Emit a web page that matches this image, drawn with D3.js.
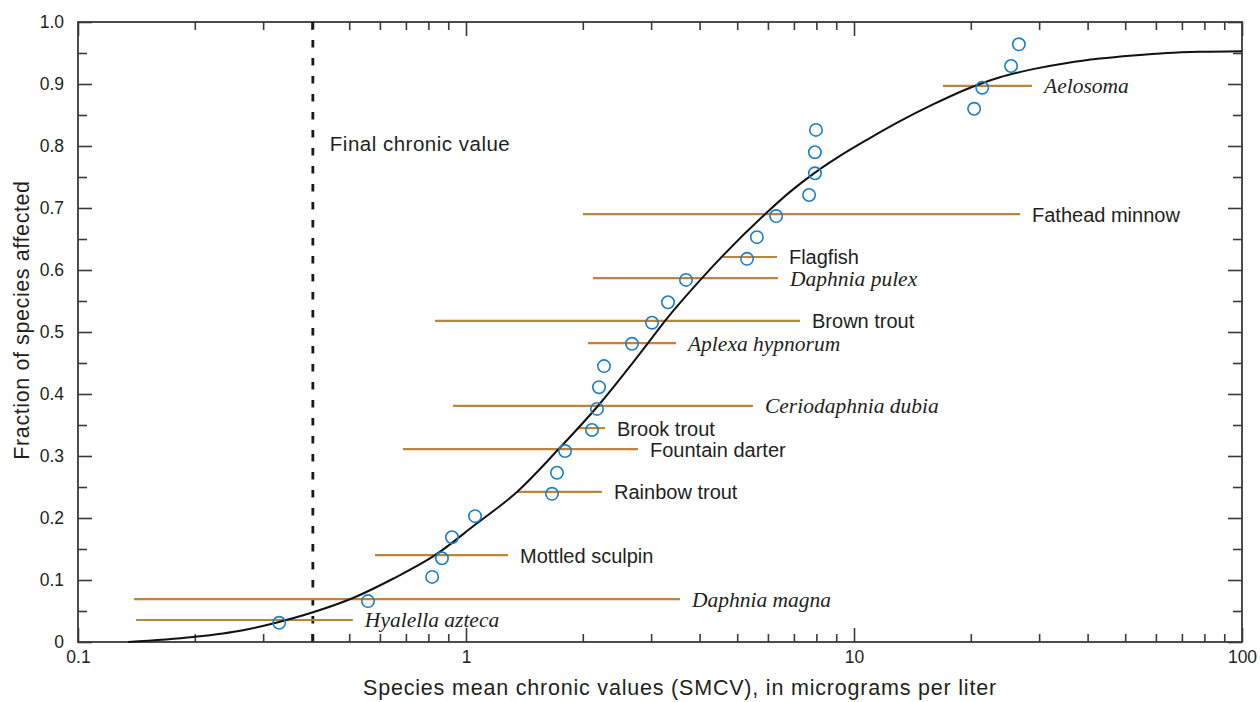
<!DOCTYPE html>
<html>
<head>
<meta charset="utf-8">
<script src="https://cdn.jsdelivr.net/npm/d3@7"></script>
<style>
  html, body { margin: 0; padding: 0; background: #ffffff; }
  svg { display: block; }
  .sans { font-family: "Liberation Sans", Arial, sans-serif; fill: #231f20; }
  .ital { font-family: "Liberation Serif", "Times New Roman", serif; font-style: italic; fill: #231f20; }
</style>
</head>
<body>
<svg id="chart" width="1260" height="702"></svg>
<script>
// Species mean chronic values (micrograms per liter) and their cumulative fraction
const smcv = [0.330, 0.559, 0.818, 0.867, 0.920, 1.055, 1.666, 1.716, 1.800, 2.112,
              2.176, 2.202, 2.268, 2.678, 3.016, 3.316, 3.69, 5.30, 5.62, 6.30,
              7.66, 7.93, 7.93, 7.98, 20.4, 21.4, 25.4, 26.6];
const fraction = [0.031, 0.066, 0.105, 0.135, 0.169, 0.203, 0.239, 0.273, 0.308, 0.342,
                  0.376, 0.411, 0.445, 0.481, 0.515, 0.548, 0.584, 0.618, 0.653, 0.687,
                  0.721, 0.756, 0.790, 0.826, 0.860, 0.894, 0.929, 0.964];

// Fitted species sensitivity curve
const curveX = [0.1346, 0.1979, 0.2663, 0.3278, 0.4034, 0.5114, 0.6484, 0.8322, 1.055, 1.353,
                1.726, 2.176, 2.945, 3.258, 4.057, 5.898, 6.841, 7.934, 9.203, 10.80,
                13.14, 15.98, 19.56, 23.78, 28.93, 35.40, 43.05, 52.38, 64.08, 77.94, 100];
const curveY = [0.000, 0.008, 0.019, 0.032, 0.048, 0.071, 0.102, 0.140, 0.189, 0.242,
                0.310, 0.379, 0.482, 0.518, 0.587, 0.690, 0.726, 0.757, 0.784, 0.810,
                0.840, 0.867, 0.892, 0.911, 0.924, 0.934, 0.941, 0.946, 0.950, 0.952, 0.953];

// Range of chronic values for selected species
const species = ["Aelosoma", "Fathead minnow", "Flagfish", "Daphnia pulex", "Brown trout",
                 "Aplexa hypnorum", "Ceriodaphnia dubia", "Brook trout", "Fountain darter",
                 "Rainbow trout", "Mottled sculpin", "Daphnia magna", "Hyalella azteca"];
const speciesItalic = [true, false, false, true, false, true, true, false, false, false, false, true, true];
const rangeLow  = [16.96, 2.002, 4.597, 2.125, 0.832, 2.063, 0.926, 1.944, 0.688, 1.353, 0.583, 0.1394, 0.1411];
const rangeHigh = [28.76, 26.78, 6.33, 6.37, 7.26, 3.477, 5.49, 2.282, 2.776, 2.242, 1.283, 3.560, 0.511];
const rangeFrac = [0.897, 0.690, 0.621, 0.587, 0.518, 0.482, 0.381, 0.345, 0.311, 0.242, 0.140, 0.069, 0.0355];

// Final chronic value
const finalChronicValue = 0.403;

// Axis ticks
const xMajorTicks = [0.1, 1, 10, 100];
const xTickLabels = ["0.1", "1", "10", "100"];
const xMinorTicks = [0.2, 0.3, 0.4, 0.5, 0.6, 0.7, 0.8, 0.9, 2, 3, 4, 5, 6, 7, 8, 9,
                     20, 30, 40, 50, 60, 70, 80, 90];
const yMajorTicks = [0, 0.1, 0.2, 0.3, 0.4, 0.5, 0.6, 0.7, 0.8, 0.9, 1.0];
const yTickLabels = ["0", "0.1", "0.2", "0.3", "0.4", "0.5", "0.6", "0.7", "0.8", "0.9", "1.0"];
const yMinorTicks = [0.05, 0.15, 0.25, 0.35, 0.45, 0.55, 0.65, 0.75, 0.85, 0.95];

const svg = d3.select("#chart");
const plot = { left: 78, right: 1242, top: 22, bottom: 642 };
const W = plot.right - plot.left, H = plot.bottom - plot.top;

const x = d3.scaleLog().domain([0.1, 100]).range([plot.left, plot.right]);
const y = d3.scaleLinear().domain([0, 1]).range([plot.bottom, plot.top]);

const axisColor = "#3a3a3a";
const tickFont = "17.5px";

// Left axis with labels and inward ticks
svg.append("g").attr("transform", `translate(${plot.left},0)`)
  .call(d3.axisLeft(y).tickValues(yMajorTicks)
    .tickFormat((d, i) => yTickLabels[i]).tickSize(-14).tickSizeOuter(0).tickPadding(14));
svg.append("g").attr("transform", `translate(${plot.left},0)`)
  .call(d3.axisLeft(y).tickValues(yMinorTicks).tickFormat("").tickSize(-9).tickSizeOuter(0));
// Right axis, ticks only
svg.append("g").attr("transform", `translate(${plot.right},0)`)
  .call(d3.axisRight(y).tickValues(yMajorTicks).tickFormat("").tickSize(-14).tickSizeOuter(0));
svg.append("g").attr("transform", `translate(${plot.right},0)`)
  .call(d3.axisRight(y).tickValues(yMinorTicks).tickFormat("").tickSize(-9).tickSizeOuter(0));
// Bottom axis with labels
svg.append("g").attr("transform", `translate(0,${plot.bottom})`)
  .call(d3.axisBottom(x).tickValues(xMajorTicks)
    .tickFormat((d, i) => xTickLabels[i]).tickSize(-14).tickSizeOuter(0).tickPadding(9));
svg.append("g").attr("transform", `translate(0,${plot.bottom})`)
  .call(d3.axisBottom(x).tickValues(xMinorTicks).tickFormat("").tickSize(-8).tickSizeOuter(0));
// Top axis, ticks only
svg.append("g").attr("transform", `translate(0,${plot.top})`)
  .call(d3.axisTop(x).tickValues(xMajorTicks).tickFormat("").tickSize(-14).tickSizeOuter(0));
svg.append("g").attr("transform", `translate(0,${plot.top})`)
  .call(d3.axisTop(x).tickValues(xMinorTicks).tickFormat("").tickSize(-8).tickSizeOuter(0));

svg.selectAll(".domain").remove();
svg.selectAll(".tick line").attr("stroke", axisColor).attr("stroke-width", 1.6);
svg.selectAll(".tick text").attr("class", "sans").style("font-size", tickFont)
  .attr("fill", "#231f20");

// Plot frame
svg.append("rect")
  .attr("x", plot.left).attr("y", plot.top).attr("width", W).attr("height", H)
  .attr("fill", "none").attr("stroke", axisColor).attr("stroke-width", 1.8);

// Final chronic value marker
svg.append("line")
  .attr("x1", x(finalChronicValue)).attr("x2", x(finalChronicValue))
  .attr("y1", y(1)).attr("y2", y(0))
  .attr("stroke", "#1a1a1a").attr("stroke-width", 2.8)
  .attr("stroke-dasharray", "7.5 10.5");
svg.append("text").attr("class", "sans")
  .attr("x", x(finalChronicValue) + 17).attr("y", 151)
  .style("font-size", "20.5px").style("letter-spacing", "0.5px")
  .text("Final chronic value");

// Species ranges
const ranges = species.map((s, i) => ({
  name: s, italic: speciesItalic[i], lo: rangeLow[i], hi: rangeHigh[i], f: rangeFrac[i]
}));
svg.append("g").selectAll("line").data(ranges).join("line")
  .attr("x1", d => x(d.lo)).attr("x2", d => x(d.hi))
  .attr("y1", d => y(d.f)).attr("y2", d => y(d.f))
  .attr("stroke", "#bd8539").attr("stroke-width", 2.2);

// Fitted curve
const pts = curveX.map((v, i) => [x(v), y(curveY[i])]);
svg.append("path")
  .attr("d", d3.line().curve(d3.curveMonotoneX)(pts))
  .attr("fill", "none").attr("stroke", "#111").attr("stroke-width", 2);

// Species mean chronic values
svg.append("g").selectAll("circle").data(smcv).join("circle")
  .attr("cx", d => x(d)).attr("cy", (d, i) => y(fraction[i]))
  .attr("r", 6.2).attr("fill", "none").attr("stroke", "#1b7fc6").attr("stroke-width", 1.6);

// Species labels
svg.append("g").selectAll("text").data(ranges).join("text")
  .attr("class", d => d.italic ? "ital" : "sans")
  .attr("x", d => x(d.hi) + 12)
  .attr("y", d => y(d.f) + 7.5)
  .style("font-size", d => d.italic ? "21.5px" : "20px")
  .text(d => d.name);

// Axis titles
svg.append("text").attr("class", "sans")
  .attr("transform", `translate(29,320) rotate(-90)`)
  .attr("text-anchor", "middle")
  .style("font-size", "21.5px").style("letter-spacing", "0.6px")
  .text("Fraction of species affected");
svg.append("text").attr("class", "sans")
  .attr("x", 680).attr("y", 695)
  .attr("text-anchor", "middle")
  .style("font-size", "21.5px").style("letter-spacing", "0.8px")
  .text("Species mean chronic values (SMCV), in micrograms per liter");
</script>
</body>
</html>
